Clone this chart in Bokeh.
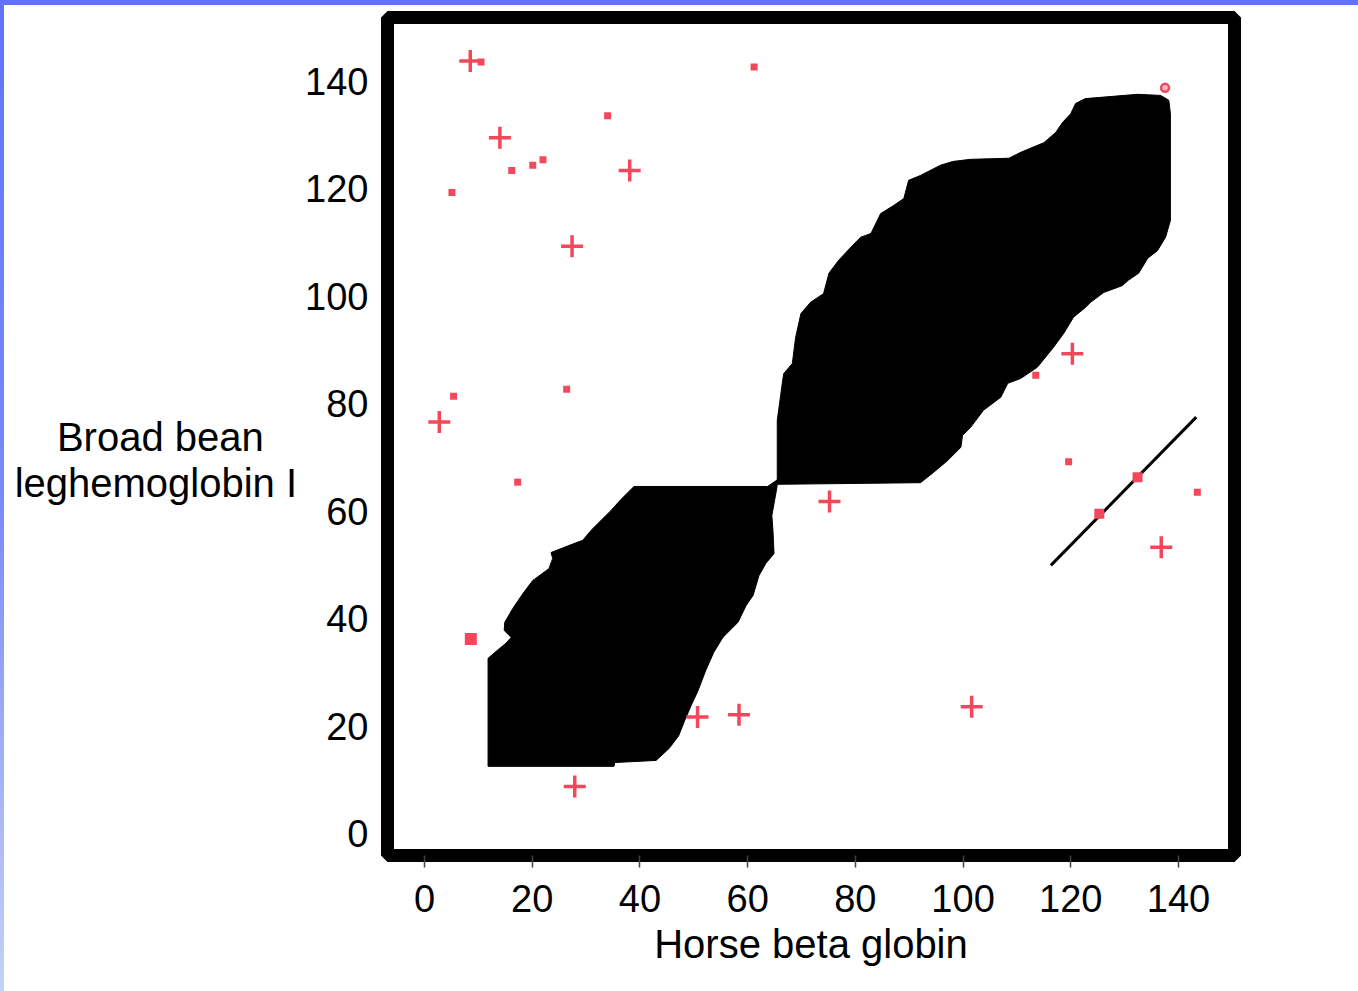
from bokeh.plotting import figure
from bokeh.models import InlineStyleSheet, FixedTicker
from bokeh.embed import file_html
from bokeh.resources import INLINE

# ---- data (sequence positions) ----
x_ticks = [0, 20, 40, 60, 80, 100, 120, 140]
y_ticks = [0, 20, 40, 60, 80, 100, 120, 140]

# lower-left similarity region (polygon outline, residue coordinates)
blob1_x = [11.8, 11.8, 13.3, 15.1, 16.1, 14.8, 14.9, 16.4, 18.3, 20.1, 23.1, 23.8, 23.5,
           26.3, 29.4, 30.9, 32.8, 34.6, 36.5, 38.9, 63.7, 65.6, 65.4, 65.0, 64.5, 64.7,
           64.9, 63.4, 62.1, 61.0, 59.7, 58.2, 55.4, 53.7, 52.2, 50.8, 49.5, 48.3, 47.2,
           45.4, 43.0, 35.3, 35.2]
blob1_y = [12.5, 32.6, 33.9, 35.4, 36.5, 37.8, 39.3, 41.9, 44.7, 47.1, 49.3, 51.2, 52.3,
           53.4, 54.6, 56.4, 58.3, 60.1, 62.2, 64.6, 64.6, 65.9, 64.2, 62.0, 59.2, 56.4,
           52.1, 50.3, 48.0, 44.3, 42.4, 39.3, 36.5, 33.7, 30.3, 26.6, 23.8, 21.0, 18.2,
           15.8, 13.6, 13.2, 12.5]

# upper-right similarity region
blob2_x = [65.5, 65.5, 66.5, 66.7, 68.3, 68.9, 69.9, 71.7, 74.1, 75.1, 76.9, 79.5, 81.0,
           82.9, 84.7, 87.1, 89.0, 89.9, 92.1, 95.8, 98.1, 101.4, 108.5, 110.7, 115.0,
           117.2, 118.5, 120.0, 120.9, 122.7, 132.4, 136.7, 138.2, 138.5, 138.5, 137.6,
           136.1, 134.3, 132.6, 130.7, 129.6, 126.1, 123.7, 122.7, 120.5, 118.7, 116.8,
           113.8, 110.7, 108.3, 107.0, 103.8, 101.4, 99.9, 99.6, 97.1, 94.5, 92.1, 65.6]
blob2_y = [65.1, 76.9, 84.3, 85.6, 87.5, 92.3, 96.8, 98.9, 100.5, 104.3, 106.7, 109.5,
           111.0, 111.7, 115.4, 116.9, 118.2, 121.6, 122.5, 124.4, 125.1, 125.5, 125.7,
           126.8, 128.6, 130.5, 132.4, 134.0, 135.9, 136.8, 137.6, 137.4, 136.5, 134.0,
           114.1, 111.0, 108.5, 107.1, 104.3, 103.0, 102.0, 100.7, 98.9, 97.9, 96.1, 93.1,
           90.5, 86.8, 84.7, 83.8, 81.2, 78.8, 75.6, 74.1, 71.9, 69.4, 67.2, 65.3, 65.0]

# red "+" matches
plus_x = [8.5, 14.0, 38.1, 27.4, 2.75, 120.3, 75.2, 136.8, 50.7, 58.4, 101.6, 27.9]
plus_y = [143.8, 129.5, 123.4, 109.3, 76.6, 89.3, 61.8, 53.3, 21.7, 22.1, 23.6, 8.75]

# red dots (small)
dot_x = [10.5, 61.2, 34.0, 16.2, 20.1, 22.0, 5.1, 5.4, 26.4, 17.3, 113.5, 119.6, 143.5]
dot_y = [143.6, 142.7, 133.6, 123.4, 124.4, 125.4, 119.3, 81.4, 82.7, 65.4, 85.3, 69.2, 63.5]

# red dots on the diagonal
diag_dot_x = [132.4, 125.3]
diag_dot_y = [66.3, 59.5]

# large red dot
big_dot_x = [8.6]
big_dot_y = [36.2]

# small open circle
ring_x = [137.5]
ring_y = [138.8]

# diagonal line segment
diag_x = [116.3, 143.3]
diag_y = [49.9, 77.5]

RED = "#F2485C"
FONT = "Liberation Sans"
NBSP = "\u00a0"

p = figure(width=1354, height=986, output_backend="svg", toolbar_location=None,
           x_range=(-6.87, 150.4), y_range=(-4.1, 151.9),
           min_border_left=383, min_border_right=128, min_border_top=12,
           min_border_bottom=141)
p.stylesheets = [InlineStyleSheet(css=(
    ":host { box-sizing: content-box !important; border-style: solid; "
    "border-width: 5px 0 0 4px; "
    "border-image: linear-gradient(to bottom, #6272f9, #7a8af6 50%, #c4d2f4) 1; }"))]

p.background_fill_color = "white"
p.border_fill_color = "white"
p.outline_line_color = "black"
p.outline_line_width = 13
p.grid.visible = False

p.patch(blob1_x, blob1_y, fill_color="black", line_color="black", line_width=1)
p.patch(blob2_x, blob2_y, fill_color="black", line_color="black", line_width=1)

p.line(diag_x, diag_y, line_color="black", line_width=3)

p.scatter(plus_x, plus_y, marker="cross", size=22, line_color=RED, line_width=3.5)
p.scatter(dot_x, dot_y, marker="square", size=7, fill_color=RED, line_color=None)
p.scatter(diag_dot_x, diag_dot_y, marker="square", size=10, fill_color=RED, line_color=None)
p.scatter(big_dot_x, big_dot_y, marker="square", size=12, fill_color=RED, line_color=None)
p.scatter(ring_x, ring_y, marker="circle", size=8, fill_color="#F8B8C0",
          line_color=RED, line_width=2.5)

# axes
p.xaxis.ticker = FixedTicker(ticks=x_ticks)
p.yaxis.ticker = FixedTicker(ticks=y_ticks)
for ax in (p.xaxis, p.yaxis):
    ax.axis_line_color = None
    ax.minor_tick_line_color = None
    ax.major_label_text_font = FONT
    ax.major_label_text_font_size = "38px"
    ax.major_label_text_color = "black"
    ax.axis_label_text_font = FONT
    ax.axis_label_text_font_size = "40px"
    ax.axis_label_text_font_style = "normal"
    ax.axis_label_text_color = "black"

p.xaxis.major_tick_in = 0
p.xaxis.major_tick_out = 12
p.xaxis.major_tick_line_color = "#444444"
p.xaxis.major_tick_line_width = 1.5
p.xaxis.major_label_standoff = 17
p.xaxis.axis_label = "Horse beta globin"
p.xaxis.axis_label_standoff = 7

p.yaxis.major_tick_line_color = None
p.yaxis.major_tick_in = 0
p.yaxis.major_tick_out = 0
p.yaxis.major_label_standoff = 19
p.yaxis.axis_label = "\nBroad bean" + NBSP * 3 + "\nleghemoglobin I"
p.yaxis.axis_label_orientation = "horizontal"
p.yaxis.axis_label_text_align = "center"
p.yaxis.axis_label_text_line_height = 1.05
p.yaxis.axis_label_standoff = 5

open("out.html", "w").write(file_html(p, INLINE))
